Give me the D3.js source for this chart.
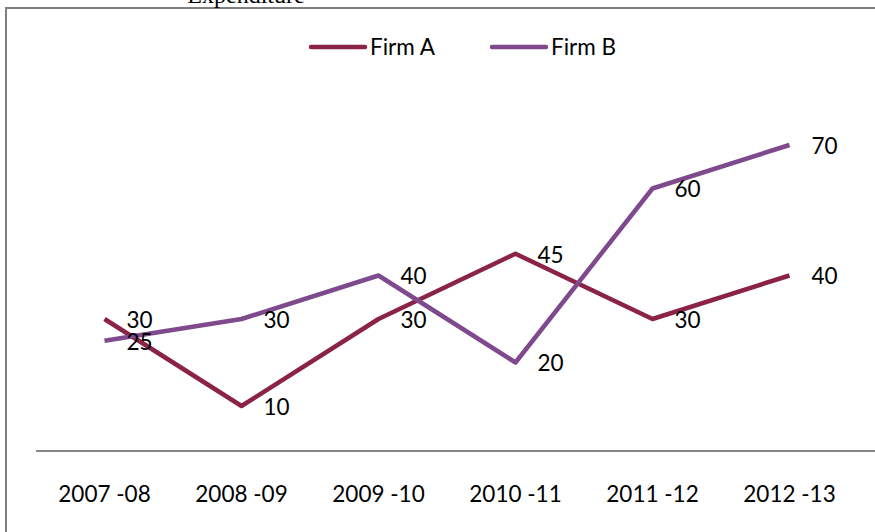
<!DOCTYPE html>
<html>
<head>
<meta charset="utf-8">
<script src="https://cdn.jsdelivr.net/npm/d3@7"></script>
<style>
  body { margin: 0; background: #fff; }
  svg text { font-family: Lato, "Open Sans", sans-serif; fill: #000; }
</style>
</head>
<body>
<div id="chart"></div>
<script>
// chart data
const categories = ["2007 -08", "2008 -09", "2009 -10", "2010 -11", "2011 -12", "2012 -13"];
const firmA = [30, 10, 30, 45, 30, 40];
const firmB = [25, 30, 40, 20, 60, 70];
const seriesNames = ["Firm A", "Firm B"];
const seriesColors = ["#8B2346", "#7E4A8D"];

const width = 875, height = 532;
const fontSize = "22.5px";

const svg = d3.select("#chart").append("svg")
    .attr("width", width)
    .attr("height", height);

// outer frame (right / bottom edges fall off the picture)
svg.append("rect")
    .attr("x", 6).attr("y", 8)
    .attr("width", 900).attr("height", 600)
    .attr("fill", "none")
    .attr("stroke", "#7f7f7f")
    .attr("stroke-width", 2);

// title, cut off at the top like in the original
svg.append("text")
    .attr("x", 246).attr("y", 3)
    .attr("text-anchor", "middle")
    .style("font-family", "'Liberation Serif', 'DejaVu Serif', serif")
    .style("font-size", "24px")
    .text("Expenditure");

// plot area
let plot = {left: 36, right: 858, top: 101.5, bottom: 449.5};

let x = d3.scaleBand()
    .domain(categories)
    .range([plot.left, plot.right]);

let y = d3.scaleLinear()
    .domain([0, 80])
    .range([plot.bottom, plot.top]);

// category axis
let xAxis = d3.axisBottom(x).tickSize(0).tickPadding(0);
let gx = svg.append("g")
    .attr("transform", `translate(0, ${plot.bottom + 1.5})`)
    .call(xAxis);
gx.select(".domain").remove();
gx.append("line")
    .attr("x1", plot.left).attr("x2", width)
    .attr("stroke", "#868686")
    .attr("stroke-width", 2);
gx.selectAll(".tick text")
    .attr("y", 43)
    .attr("dy", "0.35em")
    .style("font-size", fontSize)
    .style("font-family", "Lato, 'Open Sans', sans-serif")
    .attr("fill", "#000");

// lines + labels
let series = [firmA, firmB];
let line = d3.line()
    .x((d, i) => x(categories[i]) + x.bandwidth() / 2)
    .y(d => y(d));

series.forEach((vals, s) => {
    svg.append("path")
        .datum(vals)
        .attr("d", line)
        .attr("fill", "none")
        .attr("stroke", seriesColors[s])
        .attr("stroke-width", 4.5)
        .attr("stroke-linejoin", "round");
});

series.forEach((vals, s) => {
    svg.append("g").selectAll("text")
        .data(vals)
        .enter()
        .append("text")
        .attr("x", (d, i) => x(categories[i]) + x.bandwidth() / 2 + 22)
        .attr("y", d => y(d) + 1)
        .attr("dy", "0.35em")
        .style("font-size", fontSize)
        .text(d => d);
});

// legend
let legend = svg.append("g");
let legendX = [311, 492];
seriesNames.forEach((name, s) => {
    legend.append("line")
        .attr("x1", legendX[s]).attr("x2", legendX[s] + 54)
        .attr("y1", 47).attr("y2", 47)
        .attr("stroke", seriesColors[s])
        .attr("stroke-width", 4.5)
        .attr("stroke-linecap", "round");
    legend.append("text")
        .attr("x", legendX[s] + 59)
        .attr("y", 47)
        .attr("dy", "0.35em")
        .style("font-size", fontSize)
        .text(name);
});
</script>
</body>
</html>
